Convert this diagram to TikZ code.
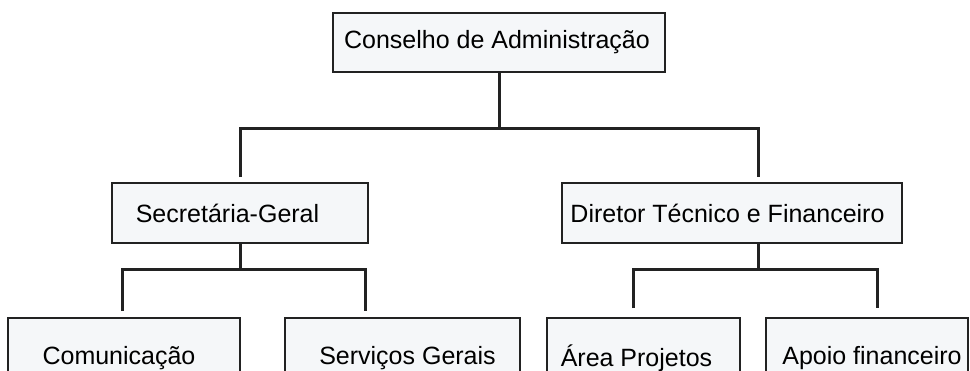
\documentclass[tikz,border=0pt]{standalone}
\usepackage{fontspec}
\setmainfont{Liberation Sans}
\definecolor{boxfill}{HTML}{F5F7F9}
\definecolor{ink}{HTML}{222222}
\begin{document}
\begin{tikzpicture}[x=1pt,y=-1pt,
  box/.style={draw=ink, line width=1.8pt, fill=boxfill, inner sep=0pt,
    font=\fontsize{25}{30}\selectfont},
  conn/.style={draw=ink, line width=3pt, line join=miter}]
\useasboundingbox (0,0) rectangle (970,370);
\clip (0,0) rectangle (970,370);
\fill[white] (0,0) rectangle (970,370);
% boxes
\node[box, minimum width=332pt, minimum height=59pt] (cons) at (499,42.5) {Conselho de Administração\kern4pt};
\node[box, minimum width=256pt, minimum height=60pt] (sec) at (240,213) {Secretária-Geral\kern25pt};
\node[box, minimum width=340pt, minimum height=60pt] (dir) at (732,213) {Diretor Técnico e Financeiro\kern9pt};
\node[box, minimum width=232pt, minimum height=80pt] (com) at (124,358) {Comunicação\kern10pt};
\node[box, minimum width=235pt, minimum height=80pt] (serv) at (402.5,358) {\kern10pt Serviços Gerais};
\node[box, minimum width=193pt, minimum height=80pt] (area) at (643.5,358) {Área Projetos\kern14pt};
\node[box, minimum width=202pt, minimum height=80pt] (apoio) at (867,358) {\kern10pt Apoio financeiro};
% coordinates of buses
\coordinate (busR) at (758,128);
\coordinate (sL) at (122,269);
\coordinate (sR) at (365,269);
\coordinate (dL) at (633,269);
\coordinate (dR) at (877,269);
% top level
\draw[conn] (cons.south) -- (cons.south |- busR);
\draw[conn, shorten <=5pt, shorten >=5pt] (sec.north) |- (busR) -- (busR |- dir.north);
% Secretaria
\draw[conn] (sec.south) -- (sec.south |- sL);
\draw[conn, shorten <=6pt, shorten >=6pt] (sL |- com.north) -- (sL) -- (sR) -- (sR |- serv.north);
% Diretor
\draw[conn] (dir.south -| busR) -- (busR |- dL);
\draw[conn, shorten <=9pt, shorten >=9pt] (dL |- area.north) -- (dL) -- (dR) -- (dR |- apoio.north);
\end{tikzpicture}
\end{document}
